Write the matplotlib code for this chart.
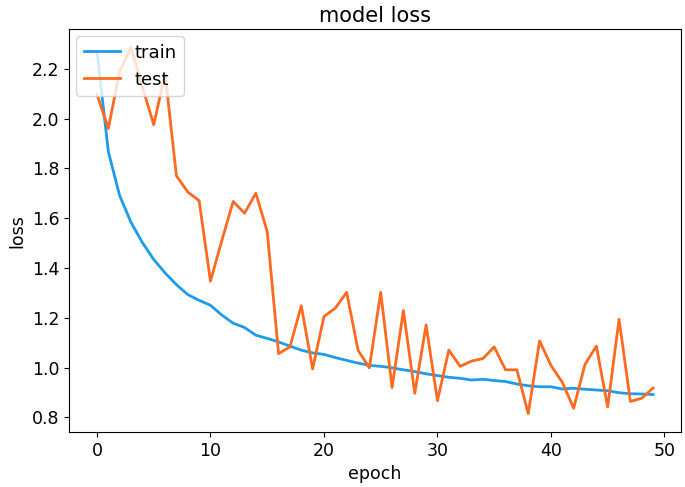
import numpy as np
from matplotlib import pyplot as plt

epochs = list(range(50))

train_loss = [2.27, 1.867, 1.69, 1.583, 1.502, 1.434, 1.38, 1.333, 1.293, 1.27,
              1.25, 1.211, 1.178, 1.161, 1.13, 1.117, 1.103, 1.086, 1.07, 1.059,
              1.053, 1.04, 1.029, 1.018, 1.009, 1.005, 0.999, 0.991, 0.984, 0.975,
              0.968, 0.961, 0.957, 0.95, 0.953, 0.948, 0.944, 0.934, 0.927, 0.923,
              0.923, 0.914, 0.917, 0.913, 0.91, 0.907, 0.899, 0.895, 0.894, 0.892]

test_loss = [2.097, 1.96, 2.19, 2.285, 2.127, 1.975, 2.18, 1.77, 1.705, 1.67,
             1.347, 1.51, 1.667, 1.62, 1.70, 1.546, 1.056, 1.083, 1.248, 0.995,
             1.205, 1.239, 1.302, 1.07, 0.999, 1.302, 0.92, 1.229, 0.897, 1.171,
             0.867, 1.07, 1.005, 1.026, 1.036, 1.083, 0.991, 0.991, 0.815, 1.107,
             1.009, 0.941, 0.837, 1.013, 1.086, 0.842, 1.194, 0.864, 0.877, 0.918]

fig = plt.figure(figsize=(6.85, 4.87), dpi=100)
ax = fig.add_axes([0.101, 0.113, 0.893, 0.827])

ax.plot(epochs, train_loss, color='#1f9be8', lw=2, label='train')
ax.plot(epochs, test_loss, color='#fd6a21', lw=2, label='test')

ax.set_title('model loss', fontsize=15, pad=5)
ax.set_xlabel('epoch', fontsize=12.5)
ax.set_ylabel('loss', fontsize=12.5)
ax.set_xticks([0, 10, 20, 30, 40, 50])
ax.set_yticks([0.8, 1.0, 1.2, 1.4, 1.6, 1.8, 2.0, 2.2])
ax.tick_params(labelsize=12.5)
ax.legend(loc='upper left', fontsize=13, borderaxespad=0.4)

fig.savefig('out.png', dpi=100)
